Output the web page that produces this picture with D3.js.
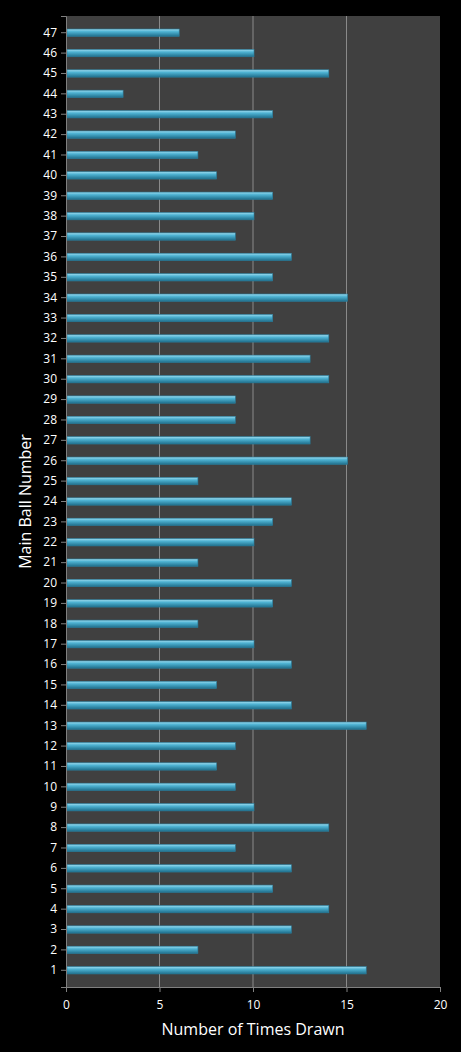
<!DOCTYPE html>
<html>
<head>
<meta charset="utf-8">
<script src="https://cdn.jsdelivr.net/npm/d3@7"></script>
<style>
  body { margin: 0; background: #000; }
  text { font-family: "Open Sans", "DejaVu Sans", sans-serif; fill: #fff; }
</style>
</head>
<body>
<div id="chart"></div>
<script>
// ball numbers 1..47 and how often each was drawn
const balls = d3.range(1, 48).map(String);
const timesDrawn = [16, 7, 12, 14, 11, 12, 9, 14, 10, 9,
                    8, 9, 16, 12, 8, 12, 10, 7, 11, 12,
                    7, 10, 11, 12, 7, 15, 13, 9, 9, 14,
                    13, 14, 11, 15, 11, 12, 9, 10, 11, 8,
                    7, 9, 11, 3, 14, 10, 6];
const xTicks = [0, 5, 10, 15, 20];

const margin = { top: 16, right: 21, bottom: 65, left: 66 },
      width = 461 - margin.left - margin.right,
      height = 1052 - margin.top - margin.bottom;

const data = balls.map((b, i) => ({ ball: b, count: timesDrawn[i] }));

const svg = d3.select("#chart")
    .append("svg")
    .attr("width", 461)
    .attr("height", 1052)
    .style("background", "#000");

const defs = svg.append("defs");
const grad = defs.append("linearGradient")
    .attr("id", "barGrad")
    .attr("x1", 0).attr("y1", 0).attr("x2", 0).attr("y2", 1);
grad.append("stop").attr("offset", "0%").attr("stop-color", "#9fdcef");
grad.append("stop").attr("offset", "35%").attr("stop-color", "#4fb3d3");
grad.append("stop").attr("offset", "100%").attr("stop-color", "#1f6f8c");

const g = svg.append("g")
    .attr("transform", `translate(${margin.left},${margin.top})`);

g.append("rect")
    .attr("width", width)
    .attr("height", height)
    .attr("fill", "#404040");

const x = d3.scaleLinear().domain([0, 20]).range([0, width]);
const y = d3.scaleBand()
    .domain(balls.slice().reverse())
    .range([0, height])
    .padding(0.64);

// gridlines
g.selectAll(".grid")
    .data(xTicks.filter(t => t > 0 && t < 20))
    .join("line")
    .attr("x1", d => x(d)).attr("x2", d => x(d))
    .attr("y1", 0).attr("y2", height)
    .attr("stroke", "#8a8a8a")
    .attr("stroke-width", 1);

// bars
g.selectAll(".bar")
    .data(data)
    .join("rect")
    .attr("x", x(0) + 1)
    .attr("y", d => y(d.ball))
    .attr("width", d => x(d.count) - x(0))
    .attr("height", y.bandwidth())
    .attr("fill", "url(#barGrad)")
    .attr("stroke", "#2a7f9e")
    .attr("stroke-width", 0.6);

// axes
const xAxis = g.append("g")
    .attr("transform", `translate(0,${height})`)
    .call(d3.axisBottom(x).tickValues(xTicks).tickSize(5).tickPadding(8));
xAxis.select(".domain").attr("stroke", "#808080");
xAxis.selectAll("line").attr("stroke", "#808080");
xAxis.selectAll("text").style("font-size", "12px").attr("fill", "#fff");

const yAxis = g.append("g")
    .call(d3.axisLeft(y).tickSize(5).tickPadding(4));
yAxis.select(".domain").attr("stroke", "#808080");
yAxis.selectAll("line").attr("stroke", "#808080");
yAxis.selectAll("text").style("font-size", "12px").attr("fill", "#fff");

svg.append("text")
    .attr("x", margin.left + width / 2)
    .attr("y", 1035)
    .attr("text-anchor", "middle")
    .style("font-size", "16px")
    .text("Number of Times Drawn");

svg.append("text")
    .attr("transform", `translate(31,${margin.top + height / 2}) rotate(-90)`)
    .attr("text-anchor", "middle")
    .style("font-size", "16px")
    .text("Main Ball Number");
</script>
</body>
</html>
